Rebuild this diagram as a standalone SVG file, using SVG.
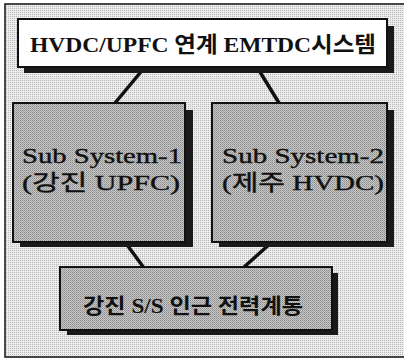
<svg xmlns="http://www.w3.org/2000/svg" width="404" height="360" viewBox="0 0 404 360">
<defs>
<pattern id="dots" width="2" height="2" patternUnits="userSpaceOnUse">
<rect width="2" height="2" fill="#ececec"/>
<rect width="1" height="1" fill="#b8b8b8"/>
</pattern>
<pattern id="boxdots" width="2" height="2" patternUnits="userSpaceOnUse">
<rect width="2" height="2" fill="#c8c8c8"/>
<rect width="1" height="1" fill="#8a8a8a"/>
<rect x="1" y="1" width="1" height="1" fill="#a0a0a0"/>
</pattern>
</defs>
<style>
.frame{fill:url(#dots);stroke:#111;stroke-width:1.5}
.shadow{fill:#1a1a1a}
.box{fill:url(#boxdots);stroke:#111;stroke-width:2}
.white{fill:#fff;stroke:#111;stroke-width:2}
.conn{stroke:#111;stroke-width:3.5;stroke-linecap:butt;fill:none}
.t{font-family:"Liberation Serif","Noto Sans CJK KR",serif;fill:#111;text-anchor:middle}
.b{font-weight:bold}
.s{stroke:#111;stroke-width:0.4}
</style>
<rect class="frame" x="5" y="4" width="400" height="353"/>
<g id="connectors">
<line class="conn" x1="145" y1="67" x2="115" y2="103"/>
<line class="conn" x1="257" y1="67" x2="279" y2="103"/>
<line class="conn" x1="125" y1="242" x2="144" y2="268"/>
<line class="conn" x1="272" y1="242" x2="243" y2="268"/>
</g>
<g id="top">
<rect class="shadow" x="24" y="26" width="370" height="47"/>
<rect class="white" x="18" y="19" width="369" height="48"/>
<text class="t b" x="203" y="52" font-size="22" textLength="346" lengthAdjust="spacingAndGlyphs">HVDC/UPFC 연계 EMTDC시스템</text>
</g>
<g id="sub1">
<rect class="shadow" x="20" y="110" width="173" height="137"/>
<rect class="box" x="13" y="103" width="172" height="139"/>
<text class="t s" x="102" y="163" font-size="22" textLength="160" lengthAdjust="spacingAndGlyphs">Sub System-1</text>
<text class="t s" x="101" y="190" font-size="22" textLength="158" lengthAdjust="spacingAndGlyphs">(강진 UPFC)</text>
</g>
<g id="sub2">
<rect class="shadow" x="219" y="110" width="175" height="137"/>
<rect class="box" x="212" y="103" width="175" height="139"/>
<text class="t s" x="303" y="163" font-size="22" textLength="162" lengthAdjust="spacingAndGlyphs">Sub System-2</text>
<text class="t s" x="303" y="190" font-size="22" textLength="162" lengthAdjust="spacingAndGlyphs">(제주 HVDC)</text>
</g>
<g id="bottom">
<rect class="shadow" x="67" y="273" width="271" height="62"/>
<rect class="box" x="60" y="267" width="272" height="63"/>
<text class="t b" x="193" y="313" font-size="21" textLength="220" lengthAdjust="spacingAndGlyphs">강진 S/S 인근 전력계통</text>
</g>
</svg>
